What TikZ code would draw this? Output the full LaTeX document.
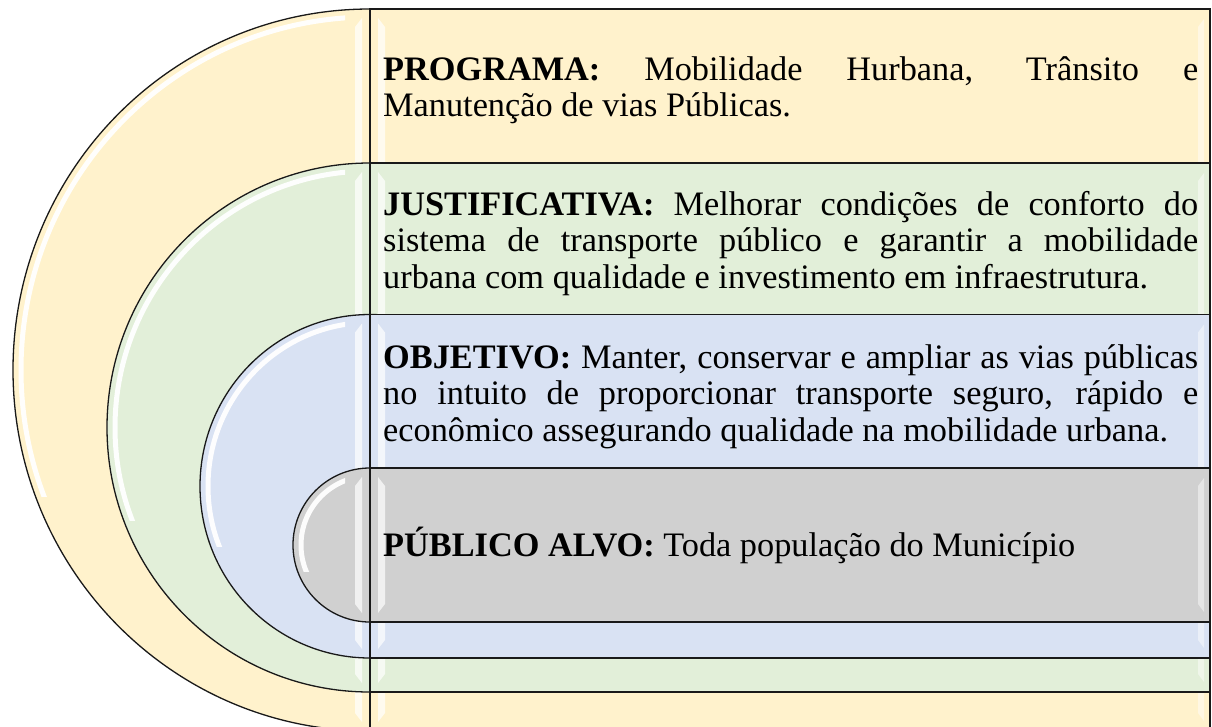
\documentclass[tikz,border=0pt]{standalone}
\usepackage{fontspec}
\setmainfont{Liberation Serif}
\definecolor{cyel}{HTML}{FFF2CC}
\definecolor{cgrn}{HTML}{E2EFD9}
\definecolor{cblu}{HTML}{D9E2F3}
\definecolor{cgry}{HTML}{D0D0D0}
\newcommand\jline[1]{\makebox[815pt][s]{#1}}
\newcommand\drawband[4]{%
  \pgfmathsetmacro\bcy{(#2+#3)/2}%
  \pgfmathsetmacro\bry{(#3-#2)/2}%
  \pgfmathsetmacro\hrx{#4-8}%
  \pgfmathsetmacro\hry{\bry-8}%
  \pgfmathsetmacro\hbot{\bcy+0.35*\bry}%
  \draw[outl, fill=#1] (370,\bcy) ellipse [x radius=#4, y radius=\bry];
  \begin{scope}
    \clip (0,#2) rectangle (345,\hbot);
    \draw[hilite] (370,\bcy) ellipse [x radius=\hrx, y radius=\hry];
  \end{scope}
  \fill[strip] (355,#2+18) -- (362,#2+9) -- (362,#3-9) -- (355,#3-18) -- cycle;
  \draw[outl, fill=#1] (370,#2) rectangle (1210,#3);
  \fill[strip] (378,#2+9) -- (385,#2+18) -- (385,#3-18) -- (378,#3-9) -- cycle;
  \fill[strip, opacity=0.45] (1198,#2+18) -- (1204,#2+10) -- (1204,#3-10) -- (1198,#3-18) -- cycle;
}
\begin{document}
\begin{tikzpicture}[x=1pt, y=-1pt,
  outl/.style={draw=black!90, line width=1.3pt},
  hilite/.style={draw=white, line width=5pt, opacity=0.95},
  strip/.style={fill=white, opacity=0.7},
  txt/.style={anchor=west, inner sep=0pt, align=left, font=\fontsize{34.3pt}{36.5pt}\selectfont}]
\useasboundingbox (0,0) rectangle (1212,726);
\clip (0,0) rectangle (1212,726);
\fill[white] (0,0) rectangle (1212,726);
\drawband{cyel}{9}{731}{357}
\drawband{cgrn}{163}{692}{263}
\drawband{cblu}{314.5}{658}{170}
\drawband{cgry}{468}{622}{77}
\node[txt] (prog) at (383,90.3) {\jline{\textbf{PROGRAMA:} Mobilidade Hurbana, Trânsito e}\\Manutenção de vias Públicas.};
\node[txt] (just) at (383,243.5) {\jline{\textbf{JUSTIFICATIVA:} Melhorar condições de conforto do}\\\jline{sistema de transporte público e garantir a mobilidade}\\urbana com qualidade e investimento em infraestrutura.};
\node[txt] (obj) at (383,396.5) {\jline{\textbf{OBJETIVO:} Manter, conservar e ampliar as vias públicas}\\\jline{no intuito de proporcionar transporte seguro, rápido e}\\econômico assegurando qualidade na mobilidade urbana.};
\node[txt] (pub) at (383,545.3) {\textbf{PÚBLICO ALVO:} Toda população do Município};
\end{tikzpicture}
\end{document}
